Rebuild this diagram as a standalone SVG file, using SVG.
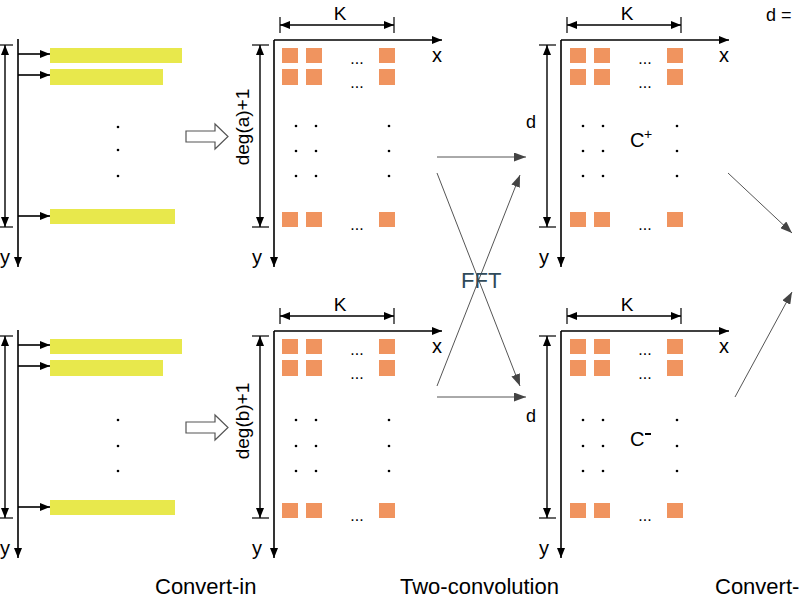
<svg xmlns="http://www.w3.org/2000/svg" width="800" height="600" viewBox="0 0 800 600">
<style>
.ln{stroke:#000;stroke-width:1.6;fill:none}
.tk{stroke:#000;stroke-width:1.2;fill:none}
.ax{stroke:#000;stroke-width:1.6;fill:none;marker-end:url(#ah)}
.dim{stroke:#000;stroke-width:1.4;fill:none;marker-start:url(#ah);marker-end:url(#ah)}
.gr{stroke:#555;stroke-width:1;fill:none;marker-end:url(#gh)}
.bar{fill:#e8e84c}
.sq{fill:#f0945f}
.t{font-family:"Liberation Sans",Arial,sans-serif;fill:#000}
.lab{font-size:19px}
.xl{font-size:20px}
.cap{font-size:22px}
.el{font-size:16px;text-anchor:middle}
.hol{fill:#fff;stroke:#555;stroke-width:1.2}
</style>
<defs>
<marker id="ah" viewBox="0 0 10 8" refX="10" refY="4" markerWidth="10" markerHeight="8" markerUnits="userSpaceOnUse" orient="auto-start-reverse"><path d="M0,0 L10,4 L0,8 z" fill="#000"/></marker>
<marker id="gh" viewBox="0 0 12 9" refX="12" refY="4.5" markerWidth="12" markerHeight="9" markerUnits="userSpaceOnUse" orient="auto"><path d="M0,0 L12,4.5 L0,9 z" fill="#444"/></marker>
<circle id="dt" r="1.3" fill="#000"/>
<g id="rowbars">
<rect class="bar" x="50" y="48" width="132" height="15"/>
<rect class="bar" x="50" y="69" width="113" height="16"/>
<rect class="bar" x="50" y="209" width="125" height="15"/>
<line class="tk" x1="0" y1="45" x2="13" y2="45"/>
<line class="tk" x1="0" y1="227" x2="13" y2="227"/>
<line class="dim" x1="5" y1="45" x2="5" y2="227"/>
<line class="ax" x1="18" y1="39" x2="18" y2="267"/>
<line class="ax" x1="18" y1="54" x2="50" y2="54"/>
<line class="ax" x1="18" y1="75" x2="50" y2="75"/>
<line class="ax" x1="18" y1="216" x2="50" y2="216"/>
</g>
<g id="grid">
<rect class="sq" x="0" y="48" width="16" height="15"/>
<rect class="sq" x="24" y="48" width="16" height="15"/>
<rect class="sq" x="97" y="48" width="16" height="15"/>
<rect class="sq" x="0" y="69" width="16" height="16"/>
<rect class="sq" x="24" y="69" width="16" height="16"/>
<rect class="sq" x="97" y="69" width="16" height="16"/>
<rect class="sq" x="0" y="212" width="16" height="15"/>
<rect class="sq" x="24" y="212" width="16" height="15"/>
<rect class="sq" x="97" y="212" width="16" height="15"/>
<text class="t el" x="75" y="64">...</text>
<text class="t el" x="75" y="88">...</text>
<text class="t el" x="75" y="230">...</text>
</g>
<g id="axes">
<line class="tk" x1="6" y1="17" x2="6" y2="33"/>
<line class="tk" x1="120" y1="17" x2="120" y2="33"/>
<line class="dim" x1="6" y1="25" x2="120" y2="25"/>
<line class="ax" x1="0" y1="40" x2="168" y2="40"/>
<line class="ax" x1="0" y1="40" x2="0" y2="267"/>
<line class="tk" x1="-22" y1="45" x2="-5" y2="45"/>
<line class="tk" x1="-22" y1="227" x2="-5" y2="227"/>
<line class="dim" x1="-14" y1="45" x2="-14" y2="227"/>
<text class="t lab" x="66" y="20" text-anchor="middle">K</text>
<text class="t xl" x="158" y="62">x</text>
<text class="t xl" x="-22" y="264">y</text>
</g>
</defs>

<g id="input-a">
<use href="#rowbars"/>
<use href="#dt" x="118" y="127"/><use href="#dt" x="118" y="150"/><use href="#dt" x="118" y="176"/>
<text class="t xl" x="0" y="264">y</text>
</g>
<g id="input-b" transform="translate(0,291)">
<use href="#rowbars"/>
<use href="#dt" x="118" y="129"/><use href="#dt" x="118" y="155"/><use href="#dt" x="118" y="180"/>
<text class="t xl" x="0" y="264">y</text>
</g>

<g id="convert-arrow-a"><polygon class="hol" points="186,131 215,131 215,124 228,136.5 215,149 215,142 186,142"/></g>
<g id="convert-arrow-b"><polygon class="hol" points="186,422 215,422 215,415 228,427.5 215,440 215,433 186,433"/></g>

<g id="matrix-a">
<g transform="translate(274,0)"><use href="#axes"/></g>
<g transform="translate(282,0)"><use href="#grid"/></g>
<use href="#dt" x="296" y="126"/><use href="#dt" x="316" y="126"/><use href="#dt" x="389" y="126"/>
<use href="#dt" x="296" y="151"/><use href="#dt" x="316" y="151"/><use href="#dt" x="389" y="151"/>
<use href="#dt" x="296" y="176"/><use href="#dt" x="316" y="176"/><use href="#dt" x="389" y="176"/>
<text class="t" font-size="19" text-anchor="middle" transform="translate(249,127) rotate(-90)">deg(a)+1</text>
</g>
<g id="matrix-b">
<g transform="translate(274,291)"><use href="#axes"/></g>
<g transform="translate(282,291)"><use href="#grid"/></g>
<use href="#dt" x="296" y="420"/><use href="#dt" x="316" y="420"/><use href="#dt" x="389" y="420"/>
<use href="#dt" x="296" y="446"/><use href="#dt" x="316" y="446"/><use href="#dt" x="389" y="446"/>
<use href="#dt" x="296" y="471"/><use href="#dt" x="316" y="471"/><use href="#dt" x="389" y="471"/>
<text class="t" font-size="19" text-anchor="middle" transform="translate(249,421) rotate(-90)">deg(b)+1</text>
</g>

<g id="c-plus">
<g transform="translate(561,0)"><use href="#axes"/></g>
<g transform="translate(570,0)"><use href="#grid"/></g>
<use href="#dt" x="583" y="126"/><use href="#dt" x="603" y="126"/><use href="#dt" x="677" y="126"/>
<use href="#dt" x="583" y="151"/><use href="#dt" x="603" y="151"/><use href="#dt" x="677" y="151"/>
<use href="#dt" x="583" y="176"/><use href="#dt" x="603" y="176"/><use href="#dt" x="677" y="176"/>
<text class="t" font-size="18" x="526" y="128">d</text>
<text class="t" font-size="20" x="630" y="147">C</text>
<text class="t" font-size="14" x="644" y="139">+</text>
</g>
<g id="c-minus">
<g transform="translate(561,291)"><use href="#axes"/></g>
<g transform="translate(570,291)"><use href="#grid"/></g>
<use href="#dt" x="583" y="420"/><use href="#dt" x="603" y="420"/><use href="#dt" x="677" y="420"/>
<use href="#dt" x="583" y="446"/><use href="#dt" x="603" y="446"/><use href="#dt" x="677" y="446"/>
<use href="#dt" x="583" y="471"/><use href="#dt" x="603" y="471"/><use href="#dt" x="677" y="471"/>
<text class="t" font-size="18" x="526" y="422">d</text>
<text class="t" font-size="20" x="630" y="446">C</text>
<rect x="645" y="433" width="6" height="2" fill="#000"/>
</g>

<g id="connectors">
<line class="gr" x1="437" y1="157" x2="526" y2="157"/>
<line class="gr" x1="437" y1="173" x2="520" y2="386"/>
<line class="gr" x1="437" y1="386" x2="520" y2="175"/>
<line class="gr" x1="437" y1="397" x2="526" y2="397"/>
<line class="gr" x1="728" y1="173" x2="792" y2="233"/>
<line class="gr" x1="735" y1="397" x2="792" y2="292"/>
</g>

<g id="labels">
<text x="461" y="288" font-family="Liberation Sans,Arial,sans-serif" font-size="22" fill="#2f4a5a">FFT</text>
<text class="t" font-size="18" x="766" y="21">d =</text>
<text class="t cap" x="155" y="594">Convert-in</text>
<text class="t cap" x="400" y="594">Two-convolution</text>
<text class="t cap" x="715" y="594">Convert-</text>
</g>
</svg>
